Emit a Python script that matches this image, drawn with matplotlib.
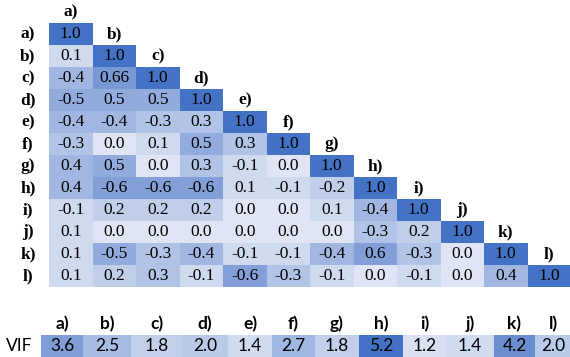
import numpy as np
import matplotlib.pyplot as plt
from matplotlib.colors import LinearSegmentedColormap, Normalize

# variable labels
labels = ['a)', 'b)', 'c)', 'd)', 'e)', 'f)', 'g)', 'h)', 'i)', 'j)', 'k)', 'l)']

# lower triangle of the correlation matrix, row by row (text as printed)
corr_rows = [
    ['1.0'],
    ['0.1', '1.0'],
    ['-0.4', '0.66', '1.0'],
    ['-0.5', '0.5', '0.5', '1.0'],
    ['-0.4', '-0.4', '-0.3', '0.3', '1.0'],
    ['-0.3', '0.0', '0.1', '0.5', '0.3', '1.0'],
    ['0.4', '0.5', '0.0', '0.3', '-0.1', '0.0', '1.0'],
    ['0.4', '-0.6', '-0.6', '-0.6', '0.1', '-0.1', '-0.2', '1.0'],
    ['-0.1', '0.2', '0.2', '0.2', '0.0', '0.0', '0.1', '-0.4', '1.0'],
    ['0.1', '0.0', '0.0', '0.0', '0.0', '0.0', '0.0', '-0.3', '0.2', '1.0'],
    ['0.1', '-0.5', '-0.3', '-0.4', '-0.1', '-0.1', '-0.4', '0.6', '-0.3', '0.0', '1.0'],
    ['0.1', '0.2', '0.3', '-0.1', '-0.6', '-0.3', '-0.1', '0.0', '-0.1', '0.0', '0.4', '1.0'],
]

# variance inflation factors
vif = [3.6, 2.5, 1.8, 2.0, 1.4, 2.7, 1.8, 5.2, 1.2, 1.4, 4.2, 2.0]

n = len(labels)
mat = np.full((n, n), np.nan)
for i, row in enumerate(corr_rows):
    for j, s in enumerate(row):
        mat[i, j] = float(s)
mat = np.ma.masked_invalid(mat)

cmap_c = LinearSegmentedColormap.from_list('c', ['#dfe5f4', '#4472c4'])
cmap_v = LinearSegmentedColormap.from_list('v', ['#d8e0f2', '#4472c4'])

W, H = 570, 357
fig = plt.figure(figsize=(W / 100, H / 100), dpi=100)
ax = fig.add_axes([0, 0, 1, 1])
ax.set_xlim(0, W)
ax.set_ylim(H, 0)
ax.axis('off')

# matrix grid (pixel layout)
x0, cw = 49, 43.5
y0, rh = 23, 22
xe = x0 + cw * np.arange(n + 1)
ye = y0 + rh * np.arange(n + 1)
ax.pcolormesh(xe, ye, np.abs(mat), cmap=cmap_c, norm=Normalize(0, 1))

serif = 'Liberation Serif'
fs = 12.5
for i, row in enumerate(corr_rows):
    yc = y0 + rh * (i + 0.5)
    ax.text(28, yc, labels[i], ha='center', va='center', fontsize=fs,
            fontweight='bold', family=serif)
    for j, s in enumerate(row):
        ax.text(x0 + cw * (j + 0.5), yc, s, ha='center', va='center',
                fontsize=fs, family=serif, color='black')
    # column header above the diagonal cell
    ax.text(x0 + cw * (i + 0.5), y0 + rh * i - 11, labels[i], ha='center',
            va='center', fontsize=fs, fontweight='bold', family=serif)

# VIF strip (cell edges in pixels)
vx = np.array([41, 83, 131, 182, 228, 272, 315, 359, 403, 446, 494, 535, 575])
vy = np.array([335, 357])
ax.pcolormesh(vx, vy, np.array([vif]), cmap=cmap_v,
              norm=Normalize(min(vif), max(vif)))
sans = 'Lato'
fv = 12.5
ax.text(19, 346, 'VIF', ha='center', va='center', fontsize=fv, family=sans)
for k, v in enumerate(vif):
    xc = (vx[k] + vx[k + 1]) / 2
    if k == n - 1:
        xc = 553
    ax.text(xc, 346, f'{v:.1f}', ha='center', va='center', fontsize=fv,
            family=sans)
    ax.text(xc, 324, labels[k], ha='center', va='center', fontsize=fv,
            fontweight='bold', family=sans)

fig.savefig('out.png', dpi=100)
